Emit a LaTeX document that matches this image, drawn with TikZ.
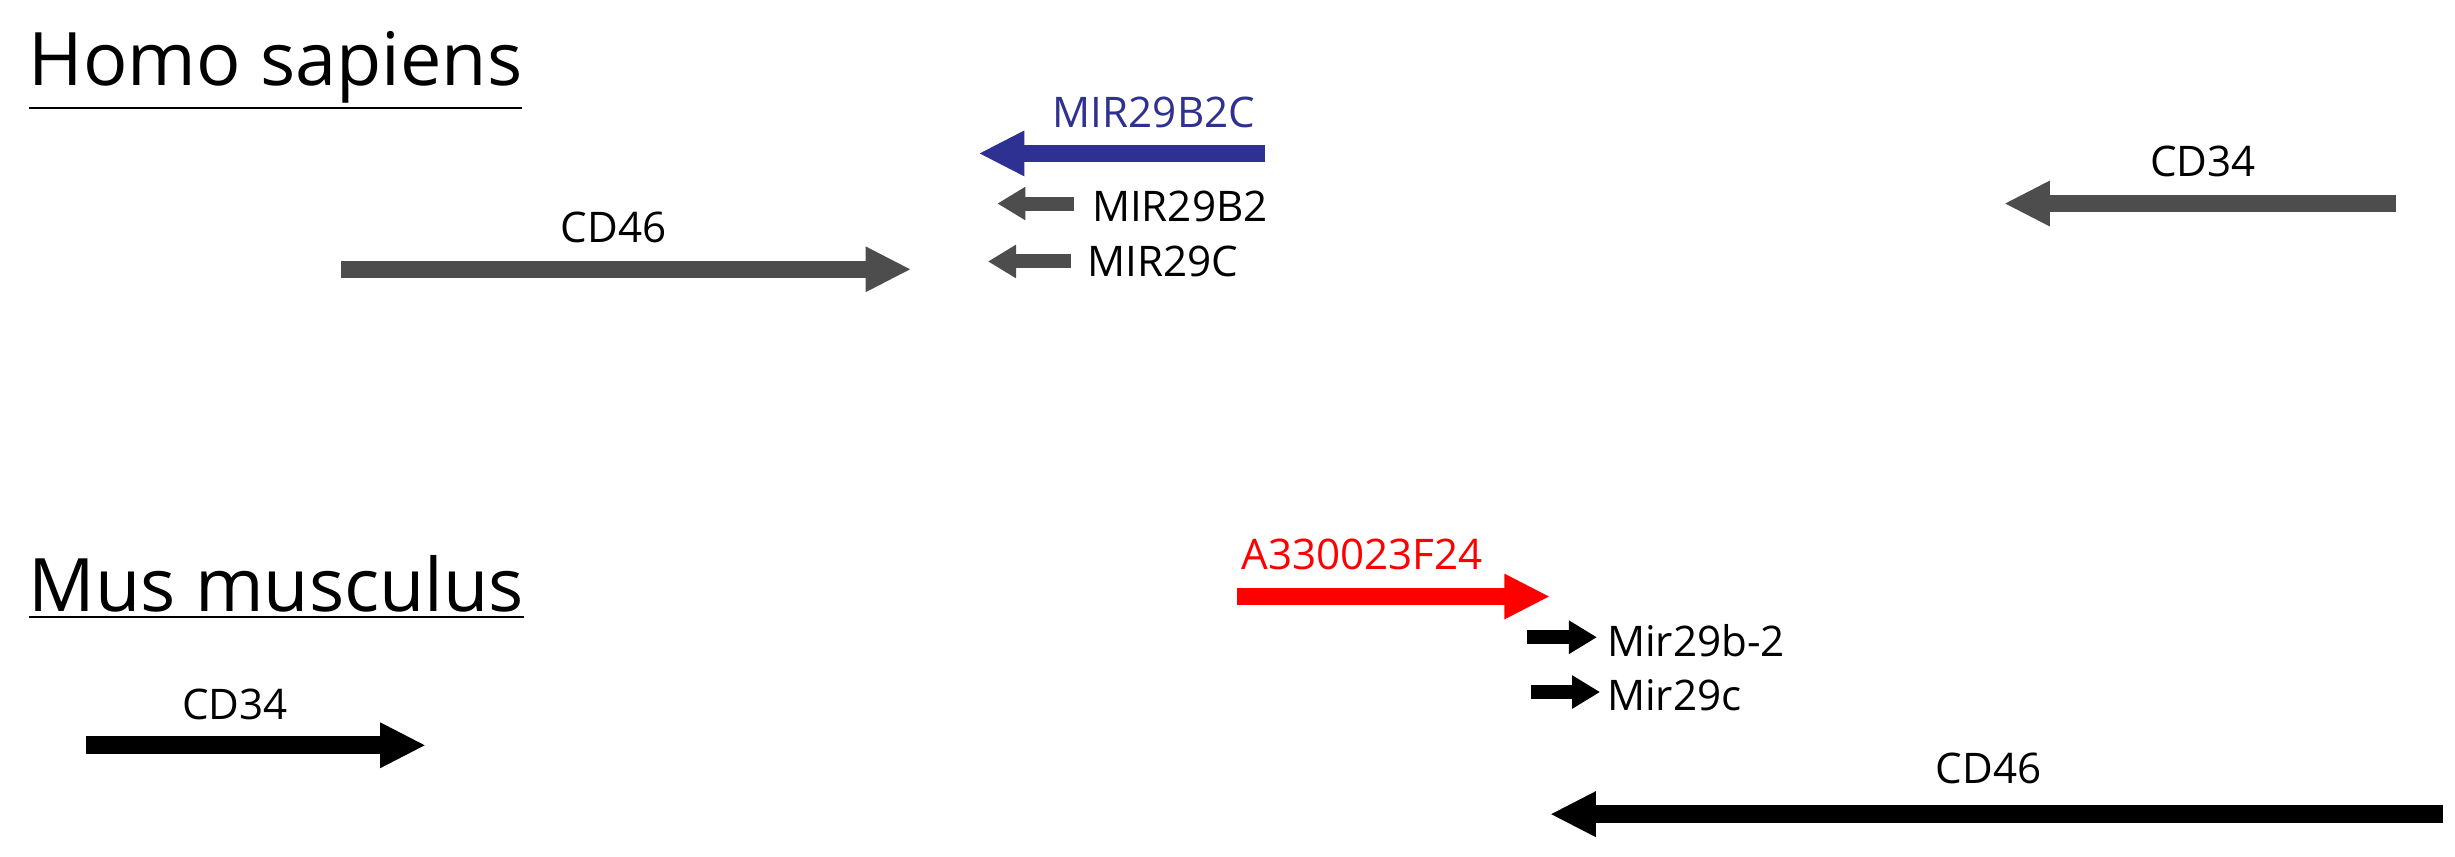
\documentclass[tikz,border=0pt]{standalone}
\usepackage{fontspec}
\setmainfont{Open Sans}
\usetikzlibrary{arrows.meta}

\tikzset{
	gene/.style={line width=5pt, -{Triangle[length=13pt, width=12pt]}},
	mir/.style={line width=4pt, -{Triangle[length=8pt, width=9pt]}},
	lbl/.style={font=\fontsize{12}{14}\selectfont, inner sep=0pt},
	species/.style={font=\fontsize{21}{24}\selectfont, inner sep=0pt, anchor=west},
}
\definecolor{hsgrey}{RGB}{77,77,77}
\definecolor{mirblue}{RGB}{46,49,146}

\begin{document}
\begin{tikzpicture}[x=0.01566cm, y=-0.01566cm]
	\useasboundingbox (0,0) rectangle (1568,547);
	% Homo sapiens
	\node[species] (hs) at (18,45) {\underline{Homo sapiens}};
	\coordinate (hsmirA) at (808,98);   \coordinate (hsmirB) at (625,98);
	\coordinate (hsb2A) at (686,130);   \coordinate (hsb2B) at (637,130);
	\coordinate (hscA) at (684,167);    \coordinate (hscB) at (631,167);
	\coordinate (hscd46A) at (218,172); \coordinate (hscd46B) at (582,172);
	\coordinate (hscd34A) at (1530,130); \coordinate (hscd34B) at (1280,130);
	\draw[gene, mirblue] (hsmirA) -- (hsmirB);
	\draw[mir, hsgrey] (hsb2A) -- (hsb2B);
	\draw[mir, hsgrey] (hscA) -- (hscB);
	\draw[gene, hsgrey] (hscd46A) -- (hscd46B);
	\draw[gene, hsgrey] (hscd34A) -- (hscd34B);
	\node[lbl, mirblue] (hsmir) at (737,72) {MIR29B2C};
	\node[lbl, anchor=west] (hsb2) at (697,132) {MIR29B2};
	\node[lbl, anchor=west] (hsc) at (694,167) {MIR29C};
	\node[lbl] (hscd46) at (392,145) {CD46};
	\node[lbl] (hscd34) at (1407,103) {CD34};
	% Mus musculus
	\node[species] (mm) at (18,375) {\underline{Mus musculus}};
	\coordinate (mmhostA) at (790,381); \coordinate (mmhostB) at (990,381);
	\coordinate (mmb2A) at (975,407);   \coordinate (mmb2B) at (1020,407);
	\coordinate (mmcA) at (978,442);    \coordinate (mmcB) at (1022,442);
	\coordinate (mmcd34A) at (55,476);  \coordinate (mmcd34B) at (272,476);
	\coordinate (mmcd46A) at (1560,520); \coordinate (mmcd46B) at (990,520);
	\draw[gene, red] (mmhostA) -- (mmhostB);
	\draw[mir] (mmb2A) -- (mmb2B);
	\draw[mir] (mmcA) -- (mmcB);
	\draw[gene] (mmcd34A) -- (mmcd34B);
	\draw[gene] (mmcd46A) -- (mmcd46B);
	\node[lbl, red] (mmhost) at (870,354) {A330023F24};
	\node[lbl, anchor=west] (mmb2) at (1026,409) {Mir29b-2};
	\node[lbl, anchor=west] (mmc) at (1026,444) {Mir29c};
	\node[lbl] (mmcd34) at (150,450) {CD34};
	\node[lbl] (mmcd46) at (1270,491) {CD46};
\end{tikzpicture}
\end{document}
